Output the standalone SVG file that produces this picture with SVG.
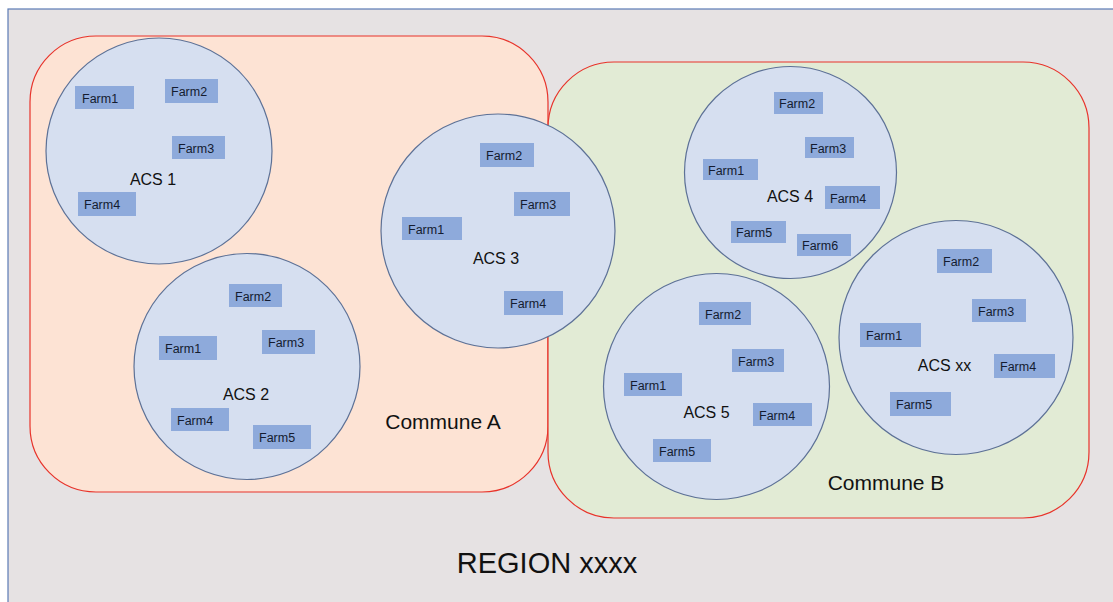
<svg xmlns="http://www.w3.org/2000/svg" width="1113" height="602" viewBox="0 0 1113 602">
<style>
.region{fill:#e6e2e3;stroke:#5b7bb5;stroke-width:1.2}
.communeA{fill:#fde3d4;stroke:#e8332a;stroke-width:1.2}
.communeB{fill:#e2ebd5;stroke:#e8332a;stroke-width:1.2}
.acs{fill:#d6dff0;stroke:#5d7196;stroke-width:1.2}
.farm rect{fill:#8eaadb}
.farm text{font-family:"Liberation Sans",Arial,sans-serif;font-size:12.5px;fill:#141c30}
.lbl{font-family:"Liberation Sans",Arial,sans-serif;font-size:16px;fill:#111;text-anchor:middle}
.big{font-family:"Liberation Sans",Arial,sans-serif;fill:#111;text-anchor:middle}
</style>
<rect x="0" y="0" width="1113" height="602" fill="#ffffff"/>
<rect class="region" x="8" y="9" width="1115" height="600"/>
<g id="communeA">
<rect class="communeA" x="30" y="36" width="518" height="456" rx="66" ry="66"/>
<text class="big" x="443" y="429" font-size="21">Commune A</text>
</g>
<g id="communeB">
<rect class="communeB" x="548" y="62" width="541" height="456" rx="66" ry="66"/>
<text class="big" x="886" y="490" font-size="21">Commune B</text>
</g>
<g id="acs1">
<circle class="acs" cx="159" cy="151" r="113"/>
<text class="lbl" x="153" y="185">ACS 1</text>
<g class="farm"><rect x="75" y="86" width="59" height="23"/><text x="82" y="102.5">Farm1</text></g>
<g class="farm"><rect x="165" y="79" width="53" height="24"/><text x="171" y="96">Farm2</text></g>
<g class="farm"><rect x="172" y="136" width="53" height="23"/><text x="178" y="152.5">Farm3</text></g>
<g class="farm"><rect x="78" y="192" width="58" height="24"/><text x="84" y="209">Farm4</text></g>
</g>
<g id="acs2">
<circle class="acs" cx="247" cy="366.5" r="113"/>
<text class="lbl" x="246" y="400">ACS 2</text>
<g class="farm"><rect x="229" y="284" width="53" height="23"/><text x="235" y="300.5">Farm2</text></g>
<g class="farm"><rect x="159" y="336" width="58" height="24"/><text x="165" y="353">Farm1</text></g>
<g class="farm"><rect x="262" y="330" width="53" height="24"/><text x="268" y="347">Farm3</text></g>
<g class="farm"><rect x="171" y="408" width="58" height="23"/><text x="177" y="424.5">Farm4</text></g>
<g class="farm"><rect x="253" y="425" width="58" height="24"/><text x="259" y="442">Farm5</text></g>
</g>
<g id="acs3">
<circle class="acs" cx="498" cy="231" r="117"/>
<text class="lbl" x="496" y="264">ACS 3</text>
<g class="farm"><rect x="480" y="143" width="54" height="24"/><text x="486" y="160">Farm2</text></g>
<g class="farm"><rect x="514" y="192" width="56" height="24"/><text x="520" y="209">Farm3</text></g>
<g class="farm"><rect x="402" y="217" width="60" height="23"/><text x="408" y="233.5">Farm1</text></g>
<g class="farm"><rect x="504" y="291" width="59" height="24"/><text x="510" y="308">Farm4</text></g>
</g>
<g id="acs4">
<circle class="acs" cx="790.5" cy="172.5" r="106"/>
<text class="lbl" x="790" y="202">ACS 4</text>
<g class="farm"><rect x="774" y="92" width="49" height="22"/><text x="779" y="108">Farm2</text></g>
<g class="farm"><rect x="805" y="137" width="49" height="21"/><text x="810" y="152.5">Farm3</text></g>
<g class="farm"><rect x="703" y="159" width="55" height="21"/><text x="708" y="174.5">Farm1</text></g>
<g class="farm"><rect x="825" y="186" width="55" height="23"/><text x="830" y="202.5">Farm4</text></g>
<g class="farm"><rect x="731" y="221" width="55" height="22"/><text x="736" y="237">Farm5</text></g>
<g class="farm"><rect x="797" y="234" width="54" height="22"/><text x="802" y="250">Farm6</text></g>
</g>
<g id="acs5">
<circle class="acs" cx="716.5" cy="386.5" r="113"/>
<text class="lbl" x="706.5" y="418">ACS 5</text>
<g class="farm"><rect x="699" y="302" width="52" height="23"/><text x="705" y="318.5">Farm2</text></g>
<g class="farm"><rect x="732" y="349" width="52" height="23"/><text x="738" y="365.5">Farm3</text></g>
<g class="farm"><rect x="624" y="373" width="58" height="23"/><text x="630" y="389.5">Farm1</text></g>
<g class="farm"><rect x="753" y="403" width="59" height="23"/><text x="759" y="419.5">Farm4</text></g>
<g class="farm"><rect x="653" y="439" width="58" height="23"/><text x="659" y="455.5">Farm5</text></g>
</g>
<g id="acsxx">
<circle class="acs" cx="956" cy="337.5" r="117"/>
<text class="lbl" x="944.5" y="371">ACS xx</text>
<g class="farm"><rect x="937" y="249" width="55" height="24"/><text x="943" y="266">Farm2</text></g>
<g class="farm"><rect x="972" y="299" width="54" height="23"/><text x="978" y="315.5">Farm3</text></g>
<g class="farm"><rect x="860" y="323" width="61" height="24"/><text x="866" y="340">Farm1</text></g>
<g class="farm"><rect x="994" y="354" width="61" height="24"/><text x="1000" y="371">Farm4</text></g>
<g class="farm"><rect x="890" y="392" width="61" height="24"/><text x="896" y="409">Farm5</text></g>
</g>
<text class="big" x="547" y="573" font-size="29">REGION xxxx</text>
</svg>
